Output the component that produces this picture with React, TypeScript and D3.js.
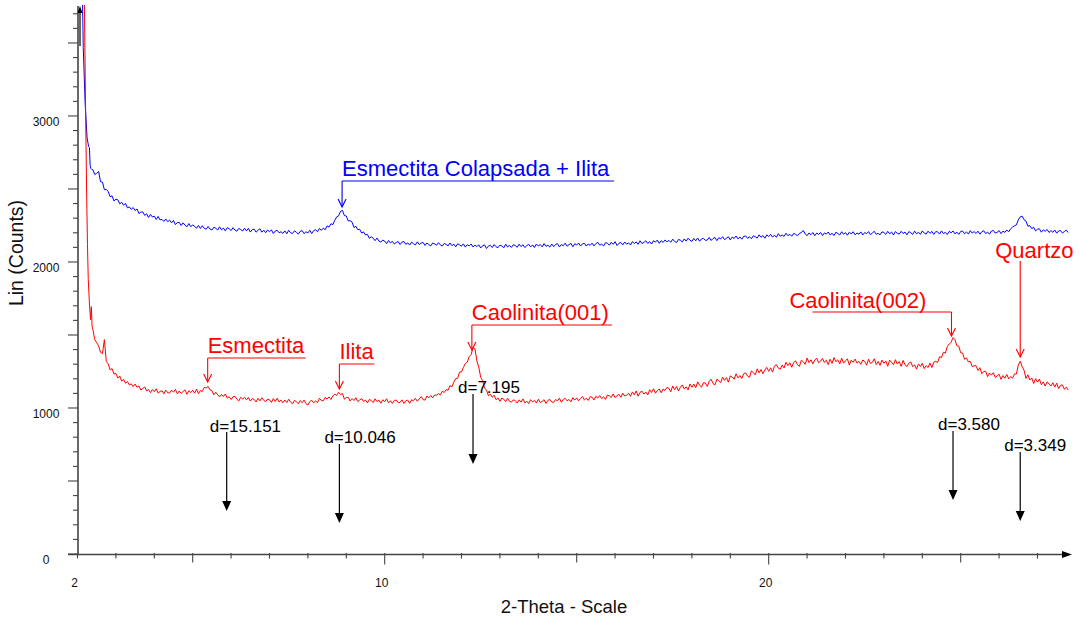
import React from 'react';
import * as d3 from 'd3';

// ---- data: XRD scans (2-Theta, Lin counts) ----
const thetaStart = 2.4;
const thetaStep = 0.05;

const redHeadTheta = [2.12, 2.18, 2.21, 2.24, 2.26, 2.28, 2.31, 2.34, 2.36, 2.38];
const redHeadCounts = [4600, 3760, 3050, 2430, 2120, 1880, 1720, 1605, 1694, 1560];
const blueHeadTheta = [2.12, 2.15, 2.2, 2.25, 2.29, 2.31, 2.33, 2.35, 2.37];
const blueHeadCounts = [3950, 3470, 3080, 2850, 2790, 2785, 2660, 2640, 2634];

const redCounts = [
  1538, 1468, 1447, 1425, 1381, 1372, 1468, 1318, 1302, 1261, 1270, 1233, 1236, 1205, 1219, 1184, 1196, 1170, 1181, 1158,
  1165, 1146, 1164, 1142, 1151, 1123, 1134, 1144, 1117, 1126, 1105, 1127, 1111, 1132, 1102, 1113, 1118, 1097, 1122, 1104,
  1103, 1122, 1108, 1127, 1097, 1116, 1100, 1113, 1124, 1094, 1119, 1106, 1121, 1102, 1129, 1098, 1119, 1113, 1141, 1137,
  1148, 1124, 1119, 1090, 1108, 1091, 1076, 1093, 1079, 1096, 1068, 1077, 1058, 1077, 1080, 1061, 1048, 1073, 1062, 1073,
  1056, 1072, 1047, 1064, 1059, 1041, 1066, 1049, 1070, 1053, 1043, 1061, 1056, 1038, 1064, 1045, 1067, 1041, 1054, 1036,
  1055, 1037, 1060, 1040, 1029, 1052, 1044, 1029, 1051, 1036, 1054, 1030, 1020, 1044, 1053, 1035, 1048, 1037, 1067, 1052,
  1049, 1072, 1061, 1076, 1058, 1082, 1095, 1086, 1108, 1092, 1099, 1060, 1072, 1073, 1048, 1065, 1051, 1070, 1044, 1055,
  1064, 1045, 1054, 1035, 1059, 1051, 1037, 1063, 1044, 1054, 1032, 1057, 1044, 1063, 1035, 1050, 1031, 1052, 1054, 1037,
  1039, 1056, 1031, 1049, 1054, 1032, 1056, 1050, 1066, 1046, 1062, 1078, 1057, 1054, 1082, 1070, 1085, 1069, 1089, 1088,
  1098, 1089, 1115, 1106, 1126, 1121, 1153, 1145, 1177, 1202, 1204, 1246, 1247, 1278, 1305, 1313, 1352, 1366, 1413, 1407,
  1322, 1280, 1210, 1187, 1136, 1124, 1084, 1094, 1074, 1087, 1057, 1069, 1046, 1068, 1060, 1044, 1067, 1046, 1040, 1056,
  1051, 1034, 1056, 1040, 1062, 1035, 1046, 1030, 1057, 1041, 1052, 1034, 1060, 1038, 1044, 1057, 1031, 1052, 1059, 1041,
  1038, 1058, 1049, 1067, 1040, 1059, 1066, 1049, 1058, 1042, 1071, 1054, 1069, 1049, 1066, 1079, 1055, 1067, 1052, 1077,
  1074, 1055, 1080, 1068, 1085, 1064, 1077, 1059, 1089, 1083, 1072, 1096, 1071, 1084, 1094, 1073, 1101, 1082, 1087, 1101,
  1080, 1110, 1090, 1117, 1081, 1107, 1115, 1095, 1109, 1089, 1125, 1106, 1132, 1101, 1119, 1130, 1104, 1130, 1120, 1141,
  1135, 1111, 1151, 1126, 1148, 1116, 1142, 1158, 1131, 1145, 1124, 1164, 1142, 1164, 1139, 1179, 1156, 1143, 1173, 1171,
  1148, 1182, 1197, 1168, 1158, 1197, 1188, 1174, 1211, 1189, 1208, 1177, 1220, 1212, 1197, 1234, 1206, 1222, 1202, 1235,
  1241, 1218, 1210, 1254, 1243, 1227, 1268, 1241, 1263, 1235, 1260, 1278, 1251, 1275, 1246, 1287, 1297, 1273, 1266, 1294,
  1274, 1313, 1290, 1310, 1279, 1311, 1323, 1297, 1285, 1327, 1317, 1299, 1342, 1311, 1330, 1302, 1328, 1342, 1310, 1320,
  1339, 1312, 1327, 1297, 1334, 1305, 1345, 1317, 1330, 1302, 1341, 1308, 1324, 1336, 1294, 1328, 1313, 1335, 1307, 1319,
  1299, 1329, 1319, 1293, 1334, 1305, 1313, 1337, 1298, 1319, 1292, 1328, 1306, 1322, 1286, 1328, 1312, 1296, 1331, 1301,
  1318, 1285, 1326, 1296, 1284, 1307, 1315, 1283, 1295, 1266, 1302, 1284, 1306, 1270, 1290, 1277, 1307, 1277, 1314, 1320,
  1312, 1351, 1346, 1382, 1376, 1420, 1438, 1449, 1482, 1468, 1426, 1424, 1378, 1376, 1333, 1343, 1316, 1319, 1283, 1290,
  1289, 1257, 1276, 1235, 1250, 1252, 1215, 1239, 1225, 1242, 1209, 1220, 1231, 1196, 1222, 1204, 1230, 1199, 1216, 1204,
  1233, 1233, 1295, 1320, 1284, 1259, 1203, 1227, 1192, 1206, 1168, 1201, 1177, 1198, 1160, 1179, 1150, 1179, 1166, 1150,
  1173, 1144, 1170, 1133, 1156, 1158, 1128, 1143, 1122,
];

const blueCounts = [
  2632, 2599, 2607, 2620, 2550, 2547, 2495, 2496, 2483, 2447, 2453, 2418, 2430, 2426, 2398, 2409, 2389, 2401, 2371, 2377,
  2360, 2373, 2352, 2363, 2332, 2342, 2343, 2319, 2330, 2305, 2326, 2308, 2314, 2291, 2312, 2288, 2292, 2278, 2294, 2276,
  2287, 2268, 2284, 2256, 2270, 2271, 2250, 2268, 2252, 2241, 2263, 2242, 2253, 2245, 2231, 2250, 2230, 2248, 2231, 2224,
  2243, 2226, 2219, 2238, 2231, 2219, 2241, 2220, 2232, 2213, 2235, 2228, 2215, 2235, 2219, 2211, 2230, 2222, 2212, 2231,
  2213, 2230, 2205, 2222, 2225, 2204, 2217, 2228, 2204, 2218, 2200, 2219, 2207, 2220, 2195, 2212, 2217, 2200, 2207, 2196,
  2213, 2193, 2217, 2200, 2195, 2213, 2204, 2190, 2210, 2215, 2194, 2207, 2199, 2217, 2195, 2215, 2221, 2207, 2230, 2217,
  2232, 2221, 2247, 2239, 2262, 2256, 2286, 2309, 2316, 2347, 2353, 2318, 2315, 2281, 2283, 2273, 2236, 2244, 2221, 2224,
  2198, 2206, 2185, 2189, 2162, 2173, 2163, 2146, 2164, 2143, 2136, 2150, 2143, 2126, 2147, 2131, 2141, 2123, 2133, 2140,
  2120, 2136, 2140, 2121, 2131, 2116, 2136, 2125, 2117, 2138, 2119, 2129, 2134, 2113, 2130, 2119, 2110, 2130, 2124, 2115,
  2132, 2117, 2109, 2127, 2121, 2110, 2130, 2112, 2122, 2104, 2125, 2117, 2108, 2124, 2102, 2119, 2110, 2123, 2103, 2115,
  2105, 2118, 2096, 2111, 2117, 2092, 2109, 2114, 2099, 2119, 2104, 2098, 2115, 2110, 2097, 2122, 2103, 2114, 2100, 2118,
  2113, 2100, 2122, 2105, 2118, 2099, 2112, 2121, 2103, 2117, 2099, 2123, 2109, 2120, 2104, 2126, 2107, 2115, 2102, 2123,
  2105, 2120, 2126, 2103, 2119, 2112, 2129, 2108, 2119, 2127, 2104, 2125, 2116, 2130, 2109, 2124, 2128, 2109, 2123, 2114,
  2129, 2110, 2126, 2134, 2115, 2122, 2110, 2132, 2129, 2115, 2135, 2121, 2139, 2113, 2128, 2133, 2117, 2137, 2122, 2131,
  2116, 2139, 2127, 2137, 2121, 2145, 2126, 2134, 2145, 2127, 2139, 2123, 2146, 2136, 2150, 2128, 2146, 2134, 2151, 2138,
  2148, 2135, 2156, 2141, 2133, 2154, 2149, 2137, 2158, 2143, 2163, 2149, 2141, 2161, 2145, 2164, 2142, 2158, 2162, 2148,
  2150, 2168, 2147, 2161, 2168, 2146, 2166, 2158, 2173, 2153, 2163, 2173, 2151, 2171, 2161, 2178, 2158, 2171, 2156, 2176,
  2178, 2162, 2173, 2159, 2179, 2173, 2163, 2186, 2169, 2181, 2163, 2186, 2174, 2189, 2170, 2184, 2169, 2194, 2176, 2185,
  2175, 2197, 2180, 2190, 2176, 2196, 2189, 2180, 2196, 2201, 2216, 2192, 2180, 2199, 2187, 2202, 2180, 2198, 2189, 2202,
  2181, 2199, 2191, 2205, 2185, 2197, 2181, 2204, 2195, 2185, 2207, 2190, 2201, 2183, 2204, 2192, 2207, 2186, 2199, 2190,
  2206, 2185, 2202, 2194, 2208, 2187, 2199, 2210, 2190, 2196, 2186, 2206, 2202, 2189, 2210, 2193, 2205, 2185, 2208, 2196,
  2191, 2210, 2195, 2205, 2186, 2208, 2200, 2189, 2211, 2193, 2204, 2189, 2213, 2198, 2191, 2211, 2196, 2209, 2189, 2208,
  2206, 2191, 2213, 2195, 2203, 2188, 2210, 2200, 2212, 2193, 2204, 2189, 2209, 2212, 2193, 2206, 2191, 2215, 2198, 2208,
  2195, 2211, 2190, 2207, 2214, 2194, 2205, 2190, 2212, 2216, 2198, 2203, 2215, 2194, 2211, 2203, 2219, 2207, 2227, 2239,
  2248, 2254, 2288, 2309, 2314, 2289, 2280, 2245, 2249, 2229, 2238, 2213, 2225, 2227, 2204, 2220, 2210, 2223, 2202, 2215,
  2203, 2219, 2197, 2213, 2215, 2198, 2209, 2218, 2202,
];

const yTickLabels = [0, 1000, 2000, 3000];
const xTickLabels = [2, 10, 20];

const phaseNames = ['Esmectita Colapsada + Ilita', 'Esmectita', 'Ilita', 'Caolinita(001)', 'Caolinita(002)', 'Quartzo'];
const phaseTheta = [8.89, 5.39, 8.82, 12.27, 24.76, 26.55];
const phaseSeries = ['blue', 'red', 'red', 'red', 'red', 'red'];

const dLabels = ['d=15.151', 'd=10.046', 'd=7.195', 'd=3.580', 'd=3.349'];
const dTheta = [5.885, 8.82, 12.3, 24.8, 26.55];

// ---- layout ----
const W = 1079;
const H = 620;
const FONT = '"Liberation Sans", Arial, Helvetica, sans-serif';
const BLUE = '#0000ff';
const RED = '#ff0000';

// per-label layout: [underlineY, tipY, textDx, baselineY, ulFromDx, ulToDx]
const phaseLayout = [
  [181, 207, 0, 176, 0, 272],
  [358, 382, 0, 353, 0, 98],
  [364, 389, 0, 359, 0, 35],
  [325, 350, 0, 320, 0, 140],
  [312, 336, -162, 308, -139, 0],
  [null, 357, -25, 258, 0, 0],
];
// per d-marker layout: [textDx, baselineY, arrowTopY, tipY]
const dLayout = [
  [-17, 432, 432, 511],
  [-15, 443, 444, 523],
  [-15, 393, 394, 464],
  [-15, 430, 431, 500],
  [-16, 451, 452, 521],
];

export default function App() {
  const x = d3.scaleLinear().domain([2, 28]).range([77.5, 1075.9]);
  const y = d3.scaleLinear().domain([0, 3760]).range([554, 5]);

  const grid = redCounts.map((_, i) => +(thetaStart + i * thetaStep).toFixed(2));
  const redPts: [number, number][] = [
    ...redHeadTheta.map((t, i) => [t, redHeadCounts[i]] as [number, number]),
    ...grid.map((t, i) => [t, redCounts[i]] as [number, number]),
  ];
  const bluePts: [number, number][] = [
    ...blueHeadTheta.map((t, i) => [t, blueHeadCounts[i]] as [number, number]),
    ...grid.map((t, i) => [t, blueCounts[i]] as [number, number]),
  ];
  const line = d3.line<[number, number]>().x((d) => x(d[0])).y((d) => y(d[1]));

  const xMinor = d3.range(2, 28, 1);
  const yMinor = d3.range(0, 3800, 100);
  const axisColor = '#444';

  return (
    <svg width={W} height={H} style={{ position: 'absolute', left: 0, top: 0, background: '#fff' }} fontFamily={FONT}>
      <defs>
        <clipPath id="plotClip">
          <rect x={78} y={5} width={1000} height={550} />
        </clipPath>
      </defs>
      <rect x={0} y={0} width={W} height={H} fill="#fff" />

      {/* y axis */}
      <line x1={78} y1={554} x2={78} y2={6} stroke={axisColor} strokeWidth={1.6} />
      {yMinor.map((v) => {
        const long = v % 500 === 0;
        return <line key={'yt' + v} x1={long ? 68 : 73} x2={78} y1={y(v)} y2={y(v)} stroke={axisColor} strokeWidth={1.1} />;
      })}
      {yTickLabels.map((v) => (
        <text key={'yl' + v} x={46} y={y(v) + 10} fontSize={12} textAnchor="middle" fill="#111">{v}</text>
      ))}
      {/* small arrow on top of y axis */}
      <line x1={80} y1={46} x2={80} y2={12} stroke="#000" strokeWidth={1.2} />
      <path d="M80,6 L77.5,13 L82.5,13 Z" fill="#000" />

      {/* x axis */}
      <line x1={68} y1={554.5} x2={1066} y2={554.5} stroke={axisColor} strokeWidth={1.6} />
      <path d="M1072,554.5 L1062,551 L1062,558 Z" fill="#000" />
      {xMinor.map((t) => {
        const len = xTickLabels.includes(t) && t !== 2 ? 10 : t % 5 === 0 ? 8 : 4;
        return <line key={'xt' + t} x1={x(t)} x2={x(t)} y1={553} y2={554.5 + len} stroke={axisColor} strokeWidth={1.1} />;
      })}
      {xTickLabels.map((t) => (
        <text key={'xl' + t} x={x(t) - 3} y={587} fontSize={12} textAnchor="middle" fill="#111">{t}</text>
      ))}

      {/* axis titles */}
      <text x={564} y={613} fontSize={18.5} textAnchor="middle" fill="#111">2-Theta - Scale</text>
      <text transform="translate(23,253) rotate(-90)" fontSize={19.5} textAnchor="middle" fill="#111">Lin (Counts)</text>

      {/* scans */}
      <g clipPath="url(#plotClip)">
        <path d={line(bluePts) || ''} fill="none" stroke={BLUE} strokeWidth={1} />
        <path d={line(redPts) || ''} fill="none" stroke={RED} strokeWidth={1} />
      </g>

      {/* phase labels */}
      {phaseNames.map((name, i) => {
        const [ulY, tipY, tdx, base, ulFrom, ulTo] = phaseLayout[i] as number[];
        const color = phaseSeries[i] === 'blue' ? BLUE : RED;
        const x0 = x(phaseTheta[i]);
        const topY = ulY == null ? 261 : ulY;
        return (
          <g key={'ph' + i} stroke={color} fill="none" strokeWidth={1.1}>
            <text x={x0 + tdx} y={base} fontSize={22} fill={color} stroke="none">{name}</text>
            {ulY != null && <line x1={x0 + ulFrom} x2={x0 + ulTo} y1={ulY} y2={ulY} />}
            <line x1={x0} x2={x0} y1={topY} y2={tipY} />
            <path d={`M${x0 - 4},${tipY - 8} L${x0},${tipY} L${x0 + 4},${tipY - 8}`} />
          </g>
        );
      })}

      {/* d-spacing markers */}
      {dLabels.map((lab, i) => {
        const [tdx, base, topY, tipY] = dLayout[i];
        const x0 = x(dTheta[i]);
        return (
          <g key={'d' + i}>
            <text x={x0 + tdx} y={base} fontSize={17} fill="#000">{lab}</text>
            <line x1={x0} x2={x0} y1={topY} y2={tipY - 8} stroke="#000" strokeWidth={1.2} />
            <path d={`M${x0},${tipY} L${x0 - 4.5},${tipY - 10} L${x0 + 4.5},${tipY - 10} Z`} fill="#000" />
          </g>
        );
      })}
    </svg>
  );
}
